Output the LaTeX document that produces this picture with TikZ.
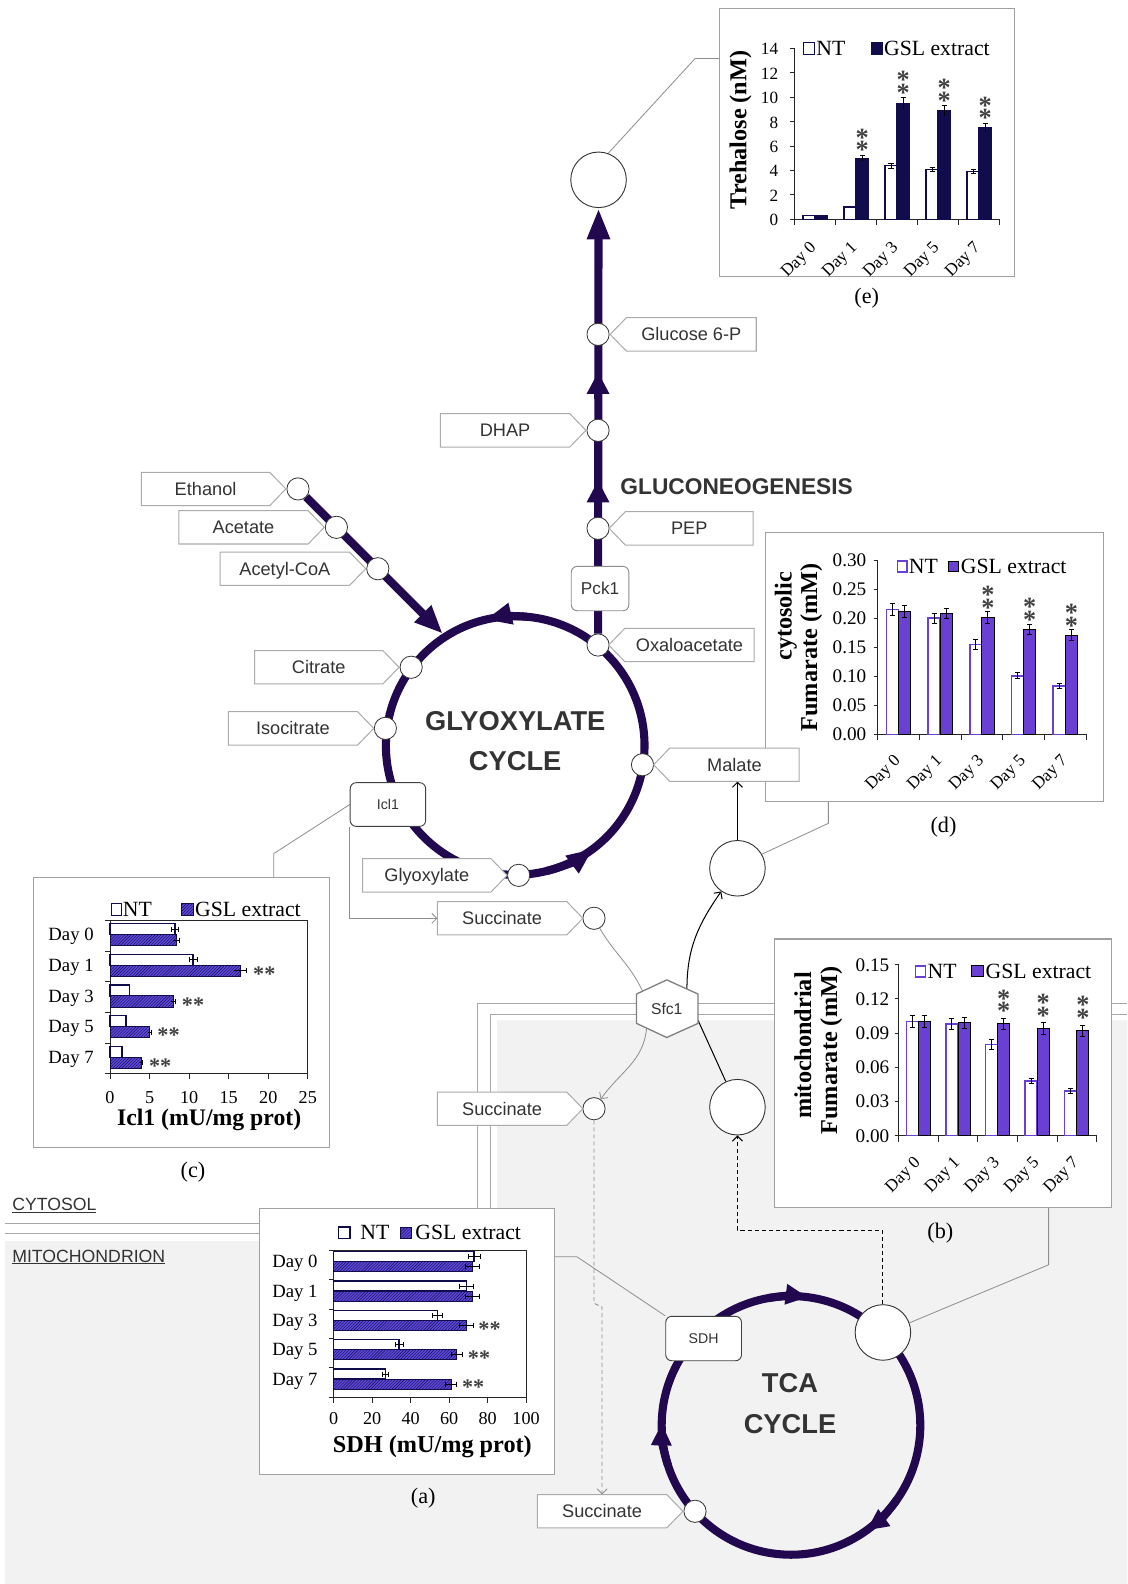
\documentclass[tikz,border=0pt]{standalone}
\usepackage{fontspec}
\setmainfont{Liberation Serif}
\newfontfamily\lsans{Liberation Sans}
\usetikzlibrary{arrows.meta,patterns}
\newcommand\fs[1]{\fontsize{#1}{#1}\selectfont}
\newcommand\twostars{\rlap{\raisebox{12.5pt}{*}}*}
\definecolor{pathc}{HTML}{22094F}
\definecolor{navy}{HTML}{110D4C}
\definecolor{purp}{HTML}{6A40D2}
\definecolor{hatchp}{HTML}{5F48DA}
\definecolor{tagc}{HTML}{ABABAB}
\definecolor{txtc}{HTML}{333333}
\definecolor{bgm}{HTML}{F2F2F2}
\definecolor{memc}{HTML}{A8A8A8}
\definecolor{linkc}{HTML}{8E8E8E}
\definecolor{astc}{HTML}{404040}
\definecolor{boxc}{HTML}{A0A0A0}
\pgfdeclarelayer{bg}\pgfdeclarelayer{mid}\pgfsetlayers{bg,mid,main}
\tikzset{
 pw/.style={draw=pathc, line width=8pt},
 met/.style={circle, draw=black!80, fill=white, line width=0.8pt, minimum size=22pt, inner sep=0pt},
 bigc/.style={circle, draw=black!80, fill=white, line width=0.9pt, minimum size=55pt, inner sep=0pt},
 tagshape/.style={draw=tagc, fill=white, line width=1pt},
 tagtxt/.style={font=\lsans\fs{18}, text=txtc, inner sep=0pt, text height=12.9pt, text depth=0pt, minimum height=33pt},
 enz/.style={draw=black!75, fill=white, rounded corners=6pt, line width=0.9pt, inner sep=0pt, font=\lsans\fs{14}, text=txtc},
 chartbox/.style={draw=boxc, fill=white, line width=1pt, inner sep=0pt, anchor=north west},
 link/.style={draw=linkc, line width=0.8pt},
 blink/.style={draw=black, line width=1pt},
 barb/.style={-{Straight Barb[length=5pt,width=10pt]}},
 gdash/.style={draw=linkc, line width=0.8pt, dash pattern=on 4pt off 3pt},
 bdash/.style={draw=black, line width=1pt, dash pattern=on 4pt off 3pt},
 memb/.style={draw=memc, line width=0.9pt},
 axisl/.style={draw=black!85, line width=0.9pt},
 errb/.style={draw=black, line width=0.9pt},
 ytk/.style={font=\fs{19}, anchor=east, inner sep=0pt, text height=12.8pt, text depth=0pt},
 xtk/.style={font=\fs{18}, inner sep=0pt, text height=12.2pt, text depth=0pt},
 dayx/.style={font=\fs{17}, anchor=east, inner sep=0pt, rotate=45},
 dayy/.style={font=\fs{18.5}, anchor=east, inner sep=0pt, text height=12.2pt, text depth=0pt},
 legt/.style={font=\fs{21.5}, anchor=west, inner sep=0pt, text height=14.2pt, text depth=0pt},
 ytitle/.style={font=\bfseries\fs{24}, rotate=90, inner sep=0pt},
 xtitle/.style={font=\bfseries\fs{23.5}, inner sep=0pt},
 panel/.style={font=\fs{22}, inner sep=0pt},
 astx/.style={font=\bfseries\fs{22}, text=astc, inner sep=0pt, yshift=-10.5pt},
 asty/.style={font=\bfseries\fs{26}, text=astc, inner sep=0pt, yshift=-12.5pt, anchor=base},
 ntE/.style={draw=navy, fill=white, line width=1.2pt},
 gsE/.style={draw=navy, fill=navy, line width=1.2pt},
 ntP/.style={draw=purp, fill=white, line width=1.5pt},
 gsP/.style={draw=black, fill=purp, line width=0.9pt},
 ntH/.style={draw=navy, fill=white, line width=1.4pt},
 gsH/.style={draw=navy, fill=hatchp, line width=1pt, postaction={pattern=north east lines, pattern color=navy}},
 cyc/.style={font=\lsans\bfseries\fs{27}, text=txtc, inner sep=0pt, text height=19.3pt, text depth=0pt},
 compt/.style={font=\lsans\fs{17.5}, text=txtc, anchor=west, inner sep=0pt, text height=12.5pt, text depth=0pt},
}
% tag pointing right: name, left x, body end x, centre y, text
\newcommand\tagR[5]{%
  \draw[tagshape] (#2,#4+16.5) -- (#3,#4+16.5) -- (#3+16,#4) -- (#3,#4-16.5) -- (#2,#4-16.5) -- cycle;
  \node[tagtxt] (#1) at ({(#2+#3)/2},#4) {#5};}
% tag pointing left: name, point x, right x, centre y, text
\newcommand\tagL[5]{%
  \draw[tagshape] (#2,#4) -- (#2+16,#4+16.5) -- (#3,#4+16.5) -- (#3,#4-16.5) -- (#2+16,#4-16.5) -- cycle;
  \node[tagtxt] (#1) at ({(#2+16+#3)/2},#4) {#5};}
\begin{document}
\begin{tikzpicture}[x=1pt,y=1pt]
\useasboundingbox (0,0) rectangle (1116,-1568);
% ================= background, membranes, charts =================
\begin{pgfonlayer}{bg}
\fill[white] (0,0) rectangle (1116,-1568);
\fill[bgm] (5,-1228.5) -- (492,-1228.5) -- (492,-1010) -- (1116,-1010) -- (1116,-1568) -- (5,-1568) -- cycle;
\draw[memb] (5,-1211.3) -- (473,-1211.3) -- (473,-993) -- (1116,-993);
\draw[memb] (5,-1220.6) -- (485,-1220.6) -- (485,-1004) -- (1116,-1004);
\node[compt] (lcyto) at (12,-1192) {\underline{CYTOSOL}};
\node[compt] (lmito) at (12,-1243) {\underline{MITOCHONDRION}};

% ---------- chart (e) ----------
\node[chartbox, minimum width=292pt, minimum height=265.5pt] (boxE) at (712,-8) {};
\begin{scope}[shift={(786.5,-217.1)}]
 \draw[axisl] (0,169.3) -- (0,0) -- (203,0);
 \foreach \v [count=\i] in {0,2,...,14} {
   \draw[axisl] (-4,{\v*12.09}) -- (0,{\v*12.09});
   \node[ytk, font=\fs{17}] (eyt\i) at (-16,{\v*12.09}) {\v};
 }
 \foreach \kk in {0,...,5} \draw[axisl] ({\kk*40.6},0) -- ({\kk*40.6},-6);
 \foreach \kk/\dd/\vA/\eA/\vB/\eB in {0/0/0.3/0/0.3/0, 1/1/1.0/0/5.0/0.25, 2/3/4.4/0.2/9.5/0.45, 3/5/4.1/0.15/8.9/0.4, 4/7/3.9/0.15/7.5/0.35} {
   \pgfmathsetmacro\cx{\kk*40.6+20.3}
   \draw[ntE] (\cx-12,0) rectangle (\cx,{\vA*12.09});
   \draw[gsE] (\cx,0) rectangle (\cx+12,{\vB*12.09});
   \ifdim\eA pt>0pt
     \draw[errb] (\cx-6,{(\vA-\eA)*12.09}) -- (\cx-6,{(\vA+\eA)*12.09})
       (\cx-8.5,{(\vA+\eA)*12.09}) -- (\cx-3.5,{(\vA+\eA)*12.09})
       (\cx-8.5,{(\vA-\eA)*12.09}) -- (\cx-3.5,{(\vA-\eA)*12.09});
   \fi
   \ifdim\eB pt>0pt
     \draw[errb] (\cx+6,{(\vB-\eB)*12.09}) -- (\cx+6,{(\vB+\eB)*12.09})
       (\cx+3.5,{(\vB+\eB)*12.09}) -- (\cx+8.5,{(\vB+\eB)*12.09});
   \fi
   \node[dayx] (ex\kk) at (\cx-1,-26) {Day \dd};
 }
 \foreach \kk/\tp in {1/5.25,2/9.95,3/9.3,4/7.85} {
   \node[asty] (eas\kk) at ({\kk*40.6+26.3},{\tp*12.09+9}) {\twostars};
 }
\end{scope}
\draw[ntE] (795.4,-42) rectangle (806.3,-53.6);
\node[legt] (eln) at (808,-47.8) {NT};
\draw[gsE] (862.5,-42) rectangle (873,-53.6);
\node[legt] (elg) at (875,-47.8) {GSL extract};
\node[ytitle] (eyl) at (733,-128.7) {Trehalose (nM)};
\node[panel] (pe) at (858,-295) {(e)};

% ---------- chart (d) ----------
\node[chartbox, minimum width=334.5pt, minimum height=266pt] (boxD) at (757.5,-527) {};
\begin{scope}[shift={(868.7,-727)}]
 \draw[axisl] (0,172.5) -- (0,0) -- (206.5,0);
 \foreach \v/\lab [count=\i] in {0/0.00,0.05/0.05,0.1/0.10,0.15/0.15,0.2/0.20,0.25/0.25,0.3/0.30} {
   \draw[axisl] (-4,{\v*575}) -- (0,{\v*575});
   \node[ytk] (dyt\i) at (-11,{\v*575}) {\lab};
 }
 \foreach \kk in {0,...,5} \draw[axisl] ({\kk*41.3},0) -- ({\kk*41.3},-6);
 \foreach \kk/\dd/\vA/\eA/\vB/\eB in {0/0/0.215/0.01/0.212/0.01, 1/1/0.200/0.009/0.208/0.009, 2/3/0.155/0.008/0.201/0.01, 3/5/0.101/0.005/0.181/0.009, 4/7/0.083/0.004/0.171/0.009} {
   \pgfmathsetmacro\cx{\kk*41.3+20.65}
   \draw[ntP] (\cx-12,0) rectangle (\cx,{\vA*575});
   \draw[gsP] (\cx,0) rectangle (\cx+12,{\vB*575});
   \draw[errb] (\cx-6,{(\vA-\eA)*575}) -- (\cx-6,{(\vA+\eA)*575})
       (\cx-8.5,{(\vA+\eA)*575}) -- (\cx-3.5,{(\vA+\eA)*575})
       (\cx-8.5,{(\vA-\eA)*575}) -- (\cx-3.5,{(\vA-\eA)*575});
   \draw[errb] (\cx+6,{(\vB-\eB)*575}) -- (\cx+6,{(\vB+\eB)*575})
       (\cx+3.5,{(\vB+\eB)*575}) -- (\cx+8.5,{(\vB+\eB)*575})
       (\cx+3.5,{(\vB-\eB)*575}) -- (\cx+8.5,{(\vB-\eB)*575});
   \node[dayx] (dx\kk) at (\cx,-24) {Day \dd};
 }
 \foreach \kk/\tp in {2/0.211,3/0.19,4/0.18} {
   \node[asty] (das\kk) at ({\kk*41.3+26.65},{\tp*575+8}) {\twostars};
 }
\end{scope}
\draw[ntP] (888.5,-555.5) rectangle (897.8,-566);
\node[legt] (dln) at (899.5,-561) {NT};
\draw[gsP] (939,-555.5) rectangle (949,-566);
\node[legt] (dlg) at (951,-561) {GSL extract};
\node[ytitle] (dyl1) at (778,-610) {cytosolic};
\node[ytitle] (dyl2) at (803,-641) {Fumarate (mM)};
\node[panel] (pd) at (934,-818.5) {(d)};

% ---------- chart (b) ----------
\node[chartbox, minimum width=334pt, minimum height=266pt] (boxB) at (766,-929) {};
\begin{scope}[shift={(889.5,-1124.2)}]
 \draw[axisl] (0,169.3) -- (0,0) -- (196,0);
 \foreach \v/\lab [count=\i] in {0/0.00,0.03/0.03,0.06/0.06,0.09/0.09,0.12/0.12,0.15/0.15} {
   \draw[axisl] (-4,{\v*1128.7}) -- (0,{\v*1128.7});
   \node[ytk] (byt\i) at (-9,{\v*1128.7}) {\lab};
 }
 \foreach \kk in {0,...,5} \draw[axisl] ({\kk*39.2},0) -- ({\kk*39.2},-6);
 \foreach \kk/\dd/\vA/\eA/\vB/\eB in {0/0/0.100/0.005/0.100/0.005, 1/1/0.098/0.005/0.099/0.005, 2/3/0.080/0.004/0.098/0.005, 3/5/0.048/0.002/0.094/0.005, 4/7/0.039/0.002/0.092/0.005} {
   \pgfmathsetmacro\cx{\kk*39.2+19.6}
   \draw[ntP] (\cx-12,0) rectangle (\cx,{\vA*1128.7});
   \draw[gsP] (\cx,0) rectangle (\cx+12,{\vB*1128.7});
   \draw[errb] (\cx-6,{(\vA-\eA)*1128.7}) -- (\cx-6,{(\vA+\eA)*1128.7})
       (\cx-8.5,{(\vA+\eA)*1128.7}) -- (\cx-3.5,{(\vA+\eA)*1128.7})
       (\cx-8.5,{(\vA-\eA)*1128.7}) -- (\cx-3.5,{(\vA-\eA)*1128.7});
   \draw[errb] (\cx+6,{(\vB-\eB)*1128.7}) -- (\cx+6,{(\vB+\eB)*1128.7})
       (\cx+3.5,{(\vB+\eB)*1128.7}) -- (\cx+8.5,{(\vB+\eB)*1128.7})
       (\cx+3.5,{(\vB-\eB)*1128.7}) -- (\cx+8.5,{(\vB-\eB)*1128.7});
   \node[dayx] (bx\kk) at (\cx,-25) {Day \dd};
 }
 \foreach \kk/\tp in {2/0.103,3/0.099,4/0.097} {
   \node[asty] (bas\kk) at ({\kk*39.2+25.6},{\tp*1128.7+11}) {\twostars};
 }
\end{scope}
\draw[ntP] (906,-956) rectangle (916,-967);
\node[legt] (bln) at (918,-961.5) {NT};
\draw[gsP] (962,-956) rectangle (973.7,-967);
\node[legt] (blg) at (975.5,-961.5) {GSL extract};
\node[ytitle] (byl1) at (794.6,-1035) {mitochondrial};
\node[ytitle] (byl2) at (823,-1040) {Fumarate (mM)};
\node[panel] (pb) at (930.8,-1221) {(b)};

% ---------- chart (c) ----------
\node[chartbox, minimum width=293pt, minimum height=267pt] (boxC) at (33,-868) {};
\begin{scope}[shift={(108.9,-911)}]
 \draw[axisl] (0,0) rectangle (195.8,-151.8);
 \foreach \kk in {0,...,5} \draw[axisl] (-5,{-\kk*30.36}) -- (0,{-\kk*30.36});
 \foreach \v [count=\i] in {0,5,...,25} {
   \draw[axisl] ({\v*7.832},-151.8) -- ({\v*7.832},-157.5);
   \node[xtk] (cxt\i) at ({\v*7.832},-175) {\v};
 }
 \foreach \kk/\dd/\vA/\eA/\vB/\eB in {0/0/8.2/0.4/8.4/0.4, 1/1/10.5/0.5/16.5/0.8, 2/3/2.5/0/8.0/0.3, 3/5/2.0/0/5.0/0.2, 4/7/1.5/0/4.0/0.15} {
   \pgfmathsetmacro\cy{\kk*30.36+14.2}
   \draw[ntH] (0,-\cy+11) rectangle ({\vA*7.832},-\cy);
   \draw[gsH] (0,-\cy) rectangle ({\vB*7.832},-\cy-11);
   \ifdim\eA pt>0pt
     \draw[errb] ({(\vA-\eA)*7.832},-\cy+5.5) -- ({(\vA+\eA)*7.832},-\cy+5.5)
       ({(\vA-\eA)*7.832},-\cy+8) -- ({(\vA-\eA)*7.832},-\cy+3)
       ({(\vA+\eA)*7.832},-\cy+8) -- ({(\vA+\eA)*7.832},-\cy+3);
   \fi
   \draw[errb] ({(\vB-\eB)*7.832},-\cy-5.5) -- ({(\vB+\eB)*7.832},-\cy-5.5)
       ({(\vB+\eB)*7.832},-\cy-3) -- ({(\vB+\eB)*7.832},-\cy-8);
   \node[dayy] (cd\kk) at (-16,-\cy) {Day \dd};
 }
 \foreach \kk/\tp in {1/17.3,2/8.3,3/5.2,4/4.15} {
   \node[astx, anchor=base west] (cas\kk) at ({\tp*7.832+6},{-(\kk*30.36+19.7)}) {**};
 }
 \draw[ntH] (1.7,5) rectangle (11.6,16.5);
 \node[legt] (cln) at (12.6,10.75) {NT};
 \draw[gsH] (71.1,5) rectangle (82.5,16.5);
 \node[legt] (clg) at (84.1,10.75) {GSL extract};
 \node[xtitle] (cxl) at (98.1,-198) {Icl1 (mU/mg prot)};
\end{scope}
\node[panel] (pc) at (191,-1160) {(c)};

% ---------- chart (a) ----------
\node[chartbox, minimum width=292.6pt, minimum height=263.5pt] (boxA) at (256,-1196) {};
\begin{scope}[shift={(330.4,-1237.8)}]
 \draw[axisl] (0,0) rectangle (190.4,-145.2);
 \foreach \kk in {0,...,5} \draw[axisl] (-5,{-\kk*29.05}) -- (0,{-\kk*29.05});
 \foreach \v [count=\i] in {0,20,...,100} {
   \draw[axisl] ({\v*1.904},-145.2) -- ({\v*1.904},-151);
   \node[xtk] (axt\i) at ({\v*1.904},-166.6) {\v};
 }
 \foreach \kk/\dd/\vA/\eA/\vB/\eB in {0/0/73/3/72/3.5, 1/1/69/3.5/72/3.5, 2/3/54/2.5/69/3.5, 3/5/34/2/64/3, 4/7/27/1.5/61/3} {
   \pgfmathsetmacro\cy{\kk*29.05+11.2}
   \draw[ntH] (0,-\cy+10) rectangle ({\vA*1.904},-\cy);
   \draw[gsH] (0,-\cy) rectangle ({\vB*1.904},-\cy-10);
   \draw[errb] ({(\vA-\eA)*1.904},-\cy+5) -- ({(\vA+\eA)*1.904},-\cy+5)
       ({(\vA-\eA)*1.904},-\cy+7.5) -- ({(\vA-\eA)*1.904},-\cy+2.5)
       ({(\vA+\eA)*1.904},-\cy+7.5) -- ({(\vA+\eA)*1.904},-\cy+2.5);
   \draw[errb] ({(\vB-\eB)*1.904},-\cy-5) -- ({(\vB+\eB)*1.904},-\cy-5)
       ({(\vB-\eB)*1.904},-\cy-2.5) -- ({(\vB-\eB)*1.904},-\cy-7.5)
       ({(\vB+\eB)*1.904},-\cy-2.5) -- ({(\vB+\eB)*1.904},-\cy-7.5);
   \node[dayy] (ad\kk) at (-16,-\cy) {Day \dd};
 }
 \foreach \kk/\tp in {2/72.5,3/67,4/64} {
   \node[astx, anchor=base west] (aas\kk) at ({\tp*1.904+5},{-(\kk*29.05+16.2)}) {**};
 }
 \draw[ntH] (4.6,11.6) rectangle (16.2,23.1);
 \node[legt] (aln) at (26.1,17.5) {NT};
 \draw[gsH] (65.6,11.6) rectangle (77.2,23.1);
 \node[legt] (alg) at (80.6,17.5) {GSL extract};
 \node[xtitle, font=\bfseries\fs{24}] (axl) at (97.6,-194.7) {SDH (mU/mg prot)};
\end{scope}
\node[panel] (pa) at (419,-1483.4) {(a)};
\end{pgfonlayer}

% ================= nodes =================
\coordinate (glyC) at (510,-738);
\coordinate (tcaC) at (783,-1411);
% metabolite circles
\node[met] (cEth) at (295,-484) {};
\node[met] (cAce) at (333,-522) {};
\node[met] (cAcc) at (374,-563) {};
\node[met] (cG6p) at (592,-331) {};
\node[met] (cDhap) at (592,-426) {};
\node[met] (cPep) at (592,-523) {};
\node[met] (cOxa) at (592,-638.5) {};
\node[met] (cCit) at (407,-660.5) {};
\node[met] (cIso) at (381.5,-721) {};
\node[met] (cMal) at (636,-757) {};
\node[met] (cGly) at (513.4,-866.5) {};
\node[met] (cSucA) at (588,-909) {};
\node[met] (cSucB) at (588,-1097.5) {};
\node[met] (cSucC) at (688,-1496) {};
\node[bigc] (cTre) at (592.5,-178) {};
\node[bigc] (cFumA) at (730,-859.5) {};
\node[bigc] (cFumB) at (730,-1096) {};
\node[bigc] (cFumT) at (874,-1319) {};
% tags
\tagR{tEth}{140}{267}{-484}{Ethanol}
\tagR{tAce}{177}{305}{-522}{Acetate}
\tagR{tAcc}{218}{346}{-563}{Acetyl-CoA}
\tagR{tDhap}{436}{564}{-426}{DHAP}
\tagR{tCit}{252}{379}{-660.5}{Citrate}
\tagR{tIso}{226}{354}{-721}{Isocitrate}
\tagR{tGly}{359}{486}{-866.5}{Glyoxylate}
\tagR{tSucA}{433}{561}{-909}{Succinate}
\tagR{tSucB}{433}{561}{-1097.5}{Succinate}
\tagR{tSucC}{532}{660}{-1496}{Succinate}
\tagL{tG6p}{604}{748.6}{-331}{Glucose 6-P}
\tagL{tPep}{603}{745.5}{-523}{PEP}
\tagL{tOxa}{602.5}{746.5}{-638.5}{Oxaloacetate}
\tagL{tMal}{647}{791}{-757}{Malate}
% enzymes
\node[enz, minimum width=57pt, minimum height=44pt, font=\lsans\fs{17}, draw=black!45] (pck) at (594,-582.6) {Pck1};
\node[enz, minimum width=74.7pt, minimum height=43.3pt] (icl) at (384,-796.4) {Icl1};
\node[enz, minimum width=75pt, minimum height=44pt] (sdh) at (696.5,-1325) {SDH};
\draw[draw=black!50, fill=white, line width=1.3pt] (660,-970) -- (691,-984) -- (691,-1013) -- (660,-1027) -- (630,-1013) -- (630,-984) -- cycle;
\node[font=\lsans\fs{15.5}, text=txtc, inner sep=0pt] (sfc) at (660,-998.5) {Sfc1};
% titles
\node[cyc] (tglyA) at (510,-713) {GLYOXYLATE};
\node[cyc] (tglyB) at (510,-753) {CYCLE};
\node[cyc] (ttcaA) at (782,-1369) {TCA};
\node[cyc] (ttcaB) at (782,-1409) {CYCLE};
\node[font=\lsans\bfseries\fs{22.5}, text=txtc, anchor=west, inner sep=0pt, text height=16.1pt, text depth=0pt] (tgng) at (614,-481) {GLUCONEOGENESIS};

% ================= connectors =================
\begin{pgfonlayer}{mid}
% pathways
\draw[pw] (glyC) circle[radius=128];
\draw[pw] (tcaC) circle[radius=128];
\draw[pw, -{Triangle[length=26pt,width=20pt]}] ([shift={(85:128)}]glyC) arc[start angle=85, end angle=103.3, radius=128];
\draw[pw, -{Triangle[length=26pt,width=20pt]}] ([shift={(-76:128)}]glyC) arc[start angle=-76, end angle=-53, radius=128];
\draw[pw, -{Triangle[length=22pt,width=19pt]}] ([shift={(100:128)}]tcaC) arc[start angle=100, end angle=82.5, radius=128];
\draw[pw, -{Triangle[length=22pt,width=19pt]}] ([shift={(198:128)}]tcaC) arc[start angle=198, end angle=179, radius=128];
\draw[pw, -{Triangle[length=22pt,width=19pt]}] ([shift={(-35:128)}]tcaC) arc[start angle=-35, end angle=-54.4, radius=128];
\coordinate (tipA) at (438.2,-627.2);
\draw[pw, -{Triangle[length=28pt,width=22pt]}] (cEth) -- (tipA);
\draw[pw, -{Triangle[length=31pt,width=21pt]}] (cOxa) -- (cTre);
\coordinate (m1s) at (592,-395); \coordinate (m1e) at (592,-368);
\coordinate (m2s) at (592,-502); \coordinate (m2e) at (592,-475.3);
\draw[pw, -{Triangle[length=22pt,width=21pt]}] (m1s) -- (m1e);
\draw[pw, -{Triangle[length=22pt,width=21pt]}] (m2s) -- (m2e);
% chart links
\coordinate (kE) at (688,-58);
\draw[link] (cTre.70) -- (kE) -- (kE -| boxE.west);
\coordinate (kD) at (820,-815);
\draw[link] (cFumA.30) -- (kD) -- (kD |- boxD.south);
\coordinate (kB) at (1038,-1252);
\draw[link] (cFumT.20) -- (kB) -- (kB |- boxB.south);
\coordinate (kA) at (571,-1244);
\draw[link] (sdh.north west) -- (kA) -- (kA -| boxA.east);
\coordinate (kC) at (271,-845);
\draw[link] (icl.west) -- (kC) -- (kC |- boxC.north);
% transport
\coordinate (sucAw) at (433,-909);
\draw[link, barb] (icl.south west) |- (sucAw);
\coordinate (hUL) at (636,-981);
\coordinate (hLL) at (640,-1018);
\coordinate (hUR) at (680,-979);
\coordinate (hR) at (691,-1010);
\draw[link] (cSucA) to[out=-60,in=115] (hUL);
\draw[link, barb] (hLL) to[out=-95,in=55] (cSucB);
\draw[blink, barb] (hUR) to[out=90,in=235] (cFumA);
\draw[blink] (hR) -- (cFumB);
\draw[blink, barb] (cFumA) -- (cFumA |- tMal.south);
\draw[bdash, barb] (cFumT.north) -- ++(0,73) -| (cFumB.south);
\coordinate (j1) at (588,-1290);
\coordinate (j2) at (596,-1294);
\draw[gdash, barb] (cSucB.south) -- (j1) -- (j2) -- (j2 |- tSucC.north);
\end{pgfonlayer}
\end{tikzpicture}
\end{document}
